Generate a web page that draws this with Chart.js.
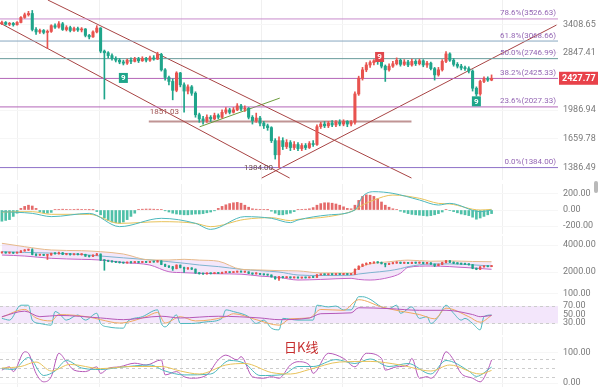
<!DOCTYPE html>
<html>
<head>
<meta charset="utf-8">
<script src="https://cdn.jsdelivr.net/npm/chart.js@4.4.1/dist/chart.umd.min.js"></script>
<style>
  html, body { margin: 0; padding: 0; background: #fff; }
  #wrap { position: relative; width: 600px; height: 387px; overflow: hidden; }
  #wrap canvas { position: absolute; left: 0; }
  #title { position: absolute; left: 284px; top: 340px; font: 13px/13px "Noto Sans CJK SC", sans-serif; color: #c62d2d; }
  #scroll { position: absolute; left: 594px; top: 181px; width: 4px; height: 12px; background: #b9b9b9; border-radius: 2px; }
</style>
</head>
<body>
<div id="wrap">
  <canvas id="cMain" width="600" height="180" style="top:0"></canvas>
  <canvas id="cMacd" width="600" height="50" style="top:184px"></canvas>
  <canvas id="cBoll" width="600" height="54" style="top:236px"></canvas>
  <canvas id="cRsi" width="600" height="49" style="top:286px"></canvas>
  <canvas id="cKdj" width="600" height="50" style="top:337px"></canvas>
  <div id="title">日K线</div>
  <div id="scroll"></div>
</div>
<script>
// daily candles
const openP = [3420,3450,3410,3430,3400,3450,3560,3620,3650,3300,
  3250,3280,3240,3260,3380,3350,3420,3300,3340,3280,
  3320,3290,3310,3180,3150,3250,3330,2880,2850,2800,
  2750,2720,2690,2670,2720,2700,2740,2710,2750,2720,
  2760,2740,2820,2560,2440,2380,2250,2510,2330,2240,
  2300,2210,1930,1880,1860,1900,1880,1920,1900,1960,
  1990,1960,1990,2040,2000,2010,1900,1860,1890,1830,
  1800,1780,1640,1500,1640,1580,1620,1570,1600,1560,
  1590,1570,1610,1600,1790,1820,1800,1830,1810,1840,
  1820,1850,1820,1840,2200,2430,2560,2640,2680,2710,
  2700,2620,2560,2620,2660,2720,2650,2690,2640,2700,
  2660,2710,2640,2670,2580,2480,2560,2700,2830,2720,
  2650,2620,2590,2580,2540,2280,2200,2380,2420,2400];
const highP = [3480,3470,3450,3450,3470,3580,3660,3700,3720,3340,
  3310,3300,3290,3400,3420,3470,3450,3380,3370,3350,
  3350,3340,3320,3200,3270,3380,3340,2900,2870,2830,
  2780,2750,2720,2740,2760,2770,2770,2780,2770,2790,
  2800,2860,2840,2580,2460,2420,2530,2520,2360,2330,
  2320,2230,1950,1910,1930,1920,1950,1940,1990,2020,
  2010,2020,2070,2060,2040,2020,1920,1950,1910,1850,
  1820,1790,1660,1680,1670,1650,1640,1630,1620,1610,
  1610,1630,1640,1810,1840,1850,1850,1860,1860,1870,
  1870,1860,1860,2230,2460,2600,2680,2710,2730,2730,
  2740,2640,2660,2700,2760,2740,2730,2720,2740,2730,
  2740,2730,2700,2690,2600,2600,2730,2870,2850,2750,
  2680,2650,2620,2610,2560,2300,2400,2450,2450,2480];
const lowP = [3400,3390,3380,3370,3390,3440,3540,3590,3270,3200,
  3220,3210,2930,3240,3320,3330,3280,3270,3250,3260,
  3260,3250,3150,3110,3140,3230,2850,2130,2760,2720,
  2690,2660,2640,2650,2660,2690,2680,2700,2690,2700,
  2720,2730,2540,2400,2330,2120,2230,2300,1960,2200,
  2180,1900,1840,1820,1840,1850,1870,1880,1890,1940,
  1940,1950,1980,1980,1970,1880,1820,1840,1800,1770,
  1750,1620,1460,1384,1550,1560,1540,1550,1540,1540,
  1550,1560,1580,1590,1770,1780,1780,1790,1790,1800,
  1800,1790,1800,1820,2180,2400,2530,2600,2640,2650,
  2590,2380,2540,2600,2640,2620,2630,2610,2620,2630,
  2640,2610,2600,2560,2400,2460,2540,2680,2700,2620,
  2590,2560,2550,2510,2240,2170,2180,2360,2380,2390];
const closeP = [3450,3410,3430,3400,3450,3560,3620,3650,3300,3250,
  3280,3240,3260,3380,3350,3420,3300,3340,3280,3320,
  3290,3310,3180,3150,3250,3330,2880,2850,2800,2750,
  2720,2690,2670,2720,2700,2740,2710,2750,2720,2760,
  2740,2820,2560,2440,2380,2250,2510,2330,2240,2300,
  2210,1930,1880,1860,1900,1880,1920,1900,1960,1990,
  1960,1990,2040,2000,2010,1900,1860,1890,1830,1800,
  1780,1640,1500,1640,1580,1620,1570,1600,1560,1590,
  1570,1610,1600,1790,1820,1800,1830,1810,1840,1820,
  1850,1820,1840,2200,2430,2560,2640,2680,2710,2700,
  2620,2560,2620,2660,2720,2650,2690,2640,2700,2660,
  2710,2640,2670,2580,2480,2560,2700,2830,2720,2650,
  2620,2590,2580,2540,2280,2200,2380,2420,2400,2427.77];

const slots = 147;                       // candle slots incl. empty space on the right
const gridIdx = [4, 25.8, 47.2, 68.5, 89.6, 110.9, 132];

// main panel
const mainTicks = [3408.65, 2847.41, 1986.94, 1659.78, 1386.49];
const fibPct = ['78.6%', '61.8%', '50.0%', '38.2%', '23.6%', '0.0%'];
const fibVal = [3526.63, 3068.66, 2746.99, 2425.33, 2027.33, 1384.00];
const fibColor = ['#c88ccc', '#88a8c0', '#6a9c9c', '#b466b8', '#b466b8', '#8f72c8'];
const trendX = [[12.1, 107.9], [-0.5, 75.8], [68.45, 146.1]];
const trendY = [[3973, 1296], [3437, 1296], [1296, 3394]];
const greenX = [52.1, 73.2];
const greenY = [1789, 2143];
const supportX = [38.7, 107.9];
const supportVal = 1851.03;
const lowIdx = 73;
const lowVal = 1384.00;
const nineIdx = [32, 99.5, 125];
const nineVal = [2433, 2776, 2100];
const nineUp = [false, true, false];

// MACD
const macdTicks = [200, 0, -200];
const macdHist = [-140,-130,-120,-80,-40,20,45,60,50,20,
  -20,-35,-40,-30,5,8,10,8,6,8,
  10,8,5,3,2,-20,-60,-100,-130,-150,
  -160,-165,-150,-120,-80,-40,8,10,12,12,
  10,8,5,-10,-25,-40,-50,-55,-60,-60,
  -55,-50,-50,-45,-35,-25,-10,20,45,65,
  80,90,95,85,60,35,15,10,8,5,
  3,-15,-40,-60,-60,-50,-40,-20,5,8,
  10,15,30,60,80,90,90,85,75,60,
  40,20,15,60,120,170,190,185,170,140,
  100,60,35,15,5,-15,-30,-45,-55,-60,
  -65,-70,-75,-70,-60,-45,-25,5,-5,-20,
  -35,-50,-60,-70,-90,-115,-100,-80,-60,-45];
const macdIdx = [0,8,13,23,31,42,51,55,64,71,76,78,86,93,95,98,103,110,115,118,126,129];
const difVal = [-21,-42,-83,-42,-208,-104,-167,-242,-83,-104,-158,-125,-62,0,167,229,208,125,62,83,-21,0];
const deaVal = [-25,-21,-54,-54,-167,-146,-167,-208,-117,-96,-133,-117,-83,0,62,125,187,146,83,75,0,8];

// BOLL
const bollTicks = [4000, 2000];
const bollIdx = [0,6,13,21,26,32,39,44,48,52,57,63,68,73,78,84,92,94,97,102,105,107,113,118,124,129];
const bollUp = [4126,3874,3630,3578,3504,3333,2889,2889,2941,2880,2800,2200,2150,2100,2080,1930,1920,2300,2600,2760,2850,2880,2800,2820,2780,2760];
const bollMid = [3504,3450,3400,3300,3185,3050,2900,2763,2650,2518,2400,2200,2100,2000,1778,1740,1760,1850,1950,2096,2250,2393,2593,2600,2530,2444];
const bollLow = [3259,3185,3015,2941,2889,2700,2518,2022,1950,1904,1870,1840,1700,1600,1407,1450,1533,1450,1407,1600,1904,2348,2444,2400,2300,2200];

// RSI
const rsiTicks = [100, 70, 50, 30];
const rsi6Idx = [0,2,5,7,8,10,13,14,15,17,20,22,25,26,28,32,33,37,41,42,43,46,47,50,54,58,59,61,65,67,69,71,73,74,78,82,83,86,88,90,92,94,95,97,100,102,104,105,108,110,112,113,115,117,119,121,122,124,126,127,129];
const rsi6 = [41,37,72,72,37,29,25,57,53,37,49,37,53,29,21,18,33,45,61,29,21,49,29,29,33,41,61,57,45,29,37,18,14,41,37,37,72,68,70,61,61,92,92,86,68,64,72,53,68,41,45,29,45,72,53,37,41,29,14,45,49];
const rsi12Idx = [0,6,9,13,15,23,26,31,38,41,43,47,51,59,61,67,73,76,81,84,90,94,100,105,110,114,117,123,126,129];
const rsi12 = [44,62,42,35,50,44,38,30,45,55,30,45,35,45,52,38,25,40,42,62,60,85,68,58,50,40,65,45,32,48];
const rsi24Idx = [0,6,10,15,26,32,42,47,57,68,73,81,84,92,94,102,110,117,124,126,129];
const rsi24 = [45,58,45,48,42,38,46,42,46,42,38,42,52,54,66,64,60,60,50,45,48];

// KDJ
const kdjTicks = [100, 0];
const kIdx = [0,3,7,11,14,17,21,26,31,39,43,48,55,60,64,68,74,78,82,88,93,97,102,107,113,117,123,125,129];
const kVal = [48,45,85,25,40,75,50,45,52,60,40,27,30,75,65,25,28,55,55,78,65,80,55,65,30,75,40,22,53];
const dIdx = [0,5,9,13,18,26,34,42,47,52,59,64,71,76,81,89,97,105,113,118,126,129];
const dVal = [50,55,70,40,62,48,55,55,40,30,60,65,35,30,45,70,72,60,40,60,30,42];
const jIdx = [0,2,3,6,7,9,11,13,15,17,19,22,25,26,28,31,35,38,42,43,46,48,50,54,57,59,62,63,66,69,71,73,76,78,81,82,86,90,93,96,100,101,104,107,108,110,112,113,115,117,119,121,124,126,128,129];
const jVal = [43,54,38,104,99,32,4,21,99,71,43,38,54,32,49,54,66,60,77,27,38,21,16,27,77,93,77,88,21,16,21,16,60,71,60,32,99,82,54,99,82,43,54,60,82,16,21,16,43,104,77,32,16,4,43,77];

const UP = '#e8534f', DOWN = '#1fa58b';
const TEAL = '#4db8bd', YELLOW = '#e8c25a', PURPLE = '#b658b8';

const mk = (xs, ys) => xs.map((x, k) => ({ x, y: ys[k] }));
const candleCol = closeP.map((c, i) => c >= openP[i] ? UP : DOWN);
const idx = closeP.map((c, i) => i);

function candles(wick, body) {
  return [
    { type: 'bar', data: idx.map(i => ({ x: i, y: [lowP[i], highP[i]] })), backgroundColor: candleCol,
      barThickness: wick, grouped: false, order: 1 },
    { type: 'bar', data: idx.map(i => ({ x: i, y: [openP[i], closeP[i]] })), backgroundColor: candleCol,
      barThickness: body, grouped: false, minBarLength: 1, order: 0 }
  ];
}
function curve(xs, ys, color, extra) {
  return Object.assign({ type: 'line', data: mk(xs, ys), borderColor: color, backgroundColor: color,
    borderWidth: 1, pointRadius: 0, fill: false, cubicInterpolationMode: 'monotone', order: 3 }, extra || {});
}
function straight(xs, ys, color, width) {
  return curve(xs, ys, color, { cubicInterpolationMode: 'default', tension: 0, borderWidth: width || 1, order: 5 });
}

function noPad(s) { s.paddingTop = 0; s.paddingBottom = 0; s.paddingLeft = 0; s.paddingRight = 0; }
function xAxis() {
  return {
    type: 'linear', min: -0.5, max: slots - 0.5, bounds: 'data', offset: false,
    ticks: { display: false },
    grid: { color: '#f0f0f0', drawTicks: false, offset: false },
    border: { display: false },
    afterBuildTicks: s => { s.ticks = gridIdx.map(v => ({ value: v })); },
    afterFit: s => { s.height = 0; noPad(s); }
  };
}
function yAxis(type, min, max, ticks) {
  return {
    type, min, max, bounds: 'data', position: 'right',
    ticks: { color: '#7a7a7a', font: { size: 9, family: 'Roboto' }, padding: 5, autoSkip: false,
      callback: v => Number(v).toFixed(2) },
    grid: { color: '#f6f6f6', drawTicks: false },
    border: { display: false },
    afterBuildTicks: s => { s.ticks = ticks.map(v => ({ value: v })); },
    afterFit: s => { s.width = 42; noPad(s); }
  };
}
function opts(type, min, max, ticks) {
  return {
    responsive: false, animation: false, events: [],
    layout: { padding: 0, autoPadding: false },
    plugins: { legend: { display: false }, tooltip: { enabled: false } },
    scales: { x: xAxis(), y: yAxis(type, min, max, ticks) }
  };
}
function guides(band, lines) {
  return {
    id: 'guides',
    beforeDatasetsDraw(chart) {
      const { ctx, chartArea: a, scales: { y } } = chart;
      ctx.save();
      if (band) {
        const y1 = y.getPixelForValue(band[0]), y2 = y.getPixelForValue(band[1]);
        ctx.fillStyle = '#f3e6fb';
        ctx.fillRect(a.left, y1, a.right - a.left, y2 - y1);
      }
      ctx.strokeStyle = '#cccccc';
      ctx.lineWidth = 1;
      ctx.setLineDash([3, 3]);
      lines.forEach(v => {
        const py = Math.round(y.getPixelForValue(v)) + 0.5;
        ctx.beginPath(); ctx.moveTo(a.left, py); ctx.lineTo(a.right, py); ctx.stroke();
      });
      ctx.restore();
    }
  };
}

// texts on the main panel
const mainLabels = {
  id: 'mainLabels',
  afterDraw(chart) {
    const { ctx, chartArea: a, scales: { x, y } } = chart;
    ctx.save();
    ctx.font = '8px Roboto';
    ctx.fillStyle = '#9466b4';
    ctx.textAlign = 'right';
    ctx.textBaseline = 'bottom';
    fibPct.forEach((p, k) => ctx.fillText(p + '(' + fibVal[k].toFixed(2) + ')', a.right - 2, y.getPixelForValue(fibVal[k]) - 1.5));

    ctx.fillStyle = '#a05252';
    ctx.textAlign = 'left';
    ctx.fillText(supportVal.toFixed(2), x.getPixelForValue(supportX[0]) + 1, y.getPixelForValue(supportVal) - 5);

    ctx.fillStyle = '#6a4a4a';
    ctx.textAlign = 'right';
    ctx.textBaseline = 'middle';
    ctx.fillText(lowVal.toFixed(2), x.getPixelForValue(lowIdx) - 6, y.getPixelForValue(lowVal));

    ctx.font = 'bold 8px Roboto';
    ctx.textAlign = 'center';
    nineIdx.forEach((v, k) => {
      const px = x.getPixelForValue(v), py = y.getPixelForValue(nineVal[k]);
      ctx.fillStyle = nineUp[k] ? '#e0474c' : '#1ea58a';
      ctx.fillRect(px - 4.5, py - 5, 9, 10);
      ctx.fillStyle = '#fff';
      ctx.fillText('9', px, py + 0.5);
    });

    const last = closeP[closeP.length - 1];
    const ty = y.getPixelForValue(last);
    ctx.fillStyle = '#e8424a';
    ctx.fillRect(a.right + 1, ty - 6.5, 39, 13);
    ctx.fillStyle = '#fff';
    ctx.font = 'bold 9px Roboto';
    ctx.textAlign = 'left';
    ctx.fillText(last.toFixed(2), a.right + 4, ty + 0.5);
    ctx.restore();
  }
};

// main price panel
new Chart(document.getElementById('cMain'), {
  type: 'bar',
  data: { datasets: [
    ...candles(1, 2.4),
    ...fibVal.map((v, k) => straight([-0.5, slots - 0.5], [v, v], fibColor[k])),
    straight(trendX[0], trendY[0], '#a84444'),
    straight(trendX[1], trendY[1], '#a84444'),
    straight(trendX[2], trendY[2], '#a84444'),
    straight(greenX, greenY, '#6c9c3c'),
    straight(supportX, [supportVal, supportVal], '#c09494', 2)
  ] },
  options: opts('logarithmic', 1280, 3973, mainTicks),
  plugins: [mainLabels]
});

// MACD
new Chart(document.getElementById('cMacd'), {
  type: 'bar',
  data: { datasets: [
    { type: 'bar', data: mk(idx, macdHist), backgroundColor: macdHist.map(v => v >= 0 ? '#e46a6a' : '#4fc0a8'),
      barThickness: 2, grouped: false, order: 4 },
    curve(macdIdx, difVal, TEAL, { order: 1 }),
    curve(macdIdx, deaVal, YELLOW, { order: 2 })
  ] },
  options: opts('linear', -300, 325, macdTicks)
});

// BOLL
new Chart(document.getElementById('cBoll'), {
  type: 'bar',
  data: { datasets: [
    ...candles(1, 1.6),
    curve(bollIdx, bollUp, '#e6b98a', { fill: '+2', backgroundColor: 'rgba(214,170,236,0.28)' }),
    curve(bollIdx, bollMid, '#5bb8c4'),
    curve(bollIdx, bollLow, '#c05cc0')
  ] },
  options: opts('linear', 667, 4667, bollTicks)
});

// RSI
new Chart(document.getElementById('cRsi'), {
  type: 'line',
  data: { datasets: [
    curve(rsi24Idx, rsi24, PURPLE),
    curve(rsi12Idx, rsi12, '#f0aa60'),
    curve(rsi6Idx, rsi6, TEAL)
  ] },
  options: opts('linear', 1.9, 117.2, rsiTicks),
  plugins: [guides([70, 30], [70, 30])]
});

// KDJ
new Chart(document.getElementById('cKdj'), {
  type: 'line',
  data: { datasets: [
    curve(dIdx, dVal, YELLOW),
    curve(kIdx, kVal, TEAL),
    curve(jIdx, jVal, PURPLE)
  ] },
  options: opts('linear', -13.3, 153.3, kdjTicks),
  plugins: [guides(null, [80, 50, 20])]
});
</script>
</body>
</html>
